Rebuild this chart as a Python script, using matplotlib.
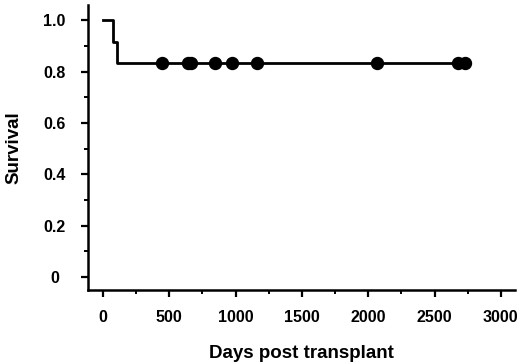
import matplotlib
matplotlib.use("Agg")
import matplotlib.pyplot as plt
import numpy as np

# Kaplan-Meier step values (days, survival)
step_days = [0, 75, 105, 2745]
step_surv = [1.0, 0.917, 0.833, 0.833]

# censored patients (days post transplant)
censored_days = [443, 645, 665, 842, 970, 1165, 2063, 2680, 2732]
censored_surv = [0.833] * len(censored_days)

x_ticks = [0, 500, 1000, 1500, 2000, 2500, 3000]
y_ticks = [0, 0.2, 0.4, 0.6, 0.8, 1.0]
y_tick_labels = ["0", "0.2", "0.4", "0.6", "0.8", "1.0"]

plt.rcParams['font.family'] = ['Liberation Sans', 'DejaVu Sans']
plt.rcParams['font.weight'] = 'bold'

fig = plt.figure(figsize=(5.2, 3.64), dpi=100)
ax = fig.add_axes([0.169, 0.203, 0.821, 0.783])

ax.step(step_days, step_surv, where='post', color='black', lw=2)
ax.plot(censored_days, censored_surv, 'o', color='black', ms=8.6)

ax.set_xlim(-113, 3105)
ax.set_ylim(-0.052, 1.06)

ax.set_xticks(x_ticks)
ax.set_xticks([250, 750, 1250, 1750, 2250, 2750], minor=True)
ax.set_yticks(y_ticks)
ax.set_yticklabels(y_tick_labels)
ax.set_yticks([0.1, 0.3, 0.5, 0.7, 0.9], minor=True)

for s in ['top', 'right']:
    ax.spines[s].set_visible(False)
for s in ['left', 'bottom']:
    ax.spines[s].set_linewidth(1.8)

ax.tick_params(axis='both', which='major', length=5, width=1.6, labelsize=11.5)
ax.tick_params(axis='both', which='minor', length=3, width=1.4)
ax.tick_params(axis='x', which='major', pad=9)
ax.tick_params(axis='y', which='major', pad=19)
for lbl in ax.get_yticklabels():
    lbl.set_horizontalalignment('center')
    lbl.set_fontweight('bold')
for lbl in ax.get_xticklabels():
    lbl.set_fontweight('bold')

ax.set_xlabel('Days post transplant', fontsize=13.5, fontweight='bold', labelpad=15)
ax.set_ylabel('Survival', fontsize=13.5, fontweight='bold', labelpad=15)

plt.savefig("out.png", dpi=100)
